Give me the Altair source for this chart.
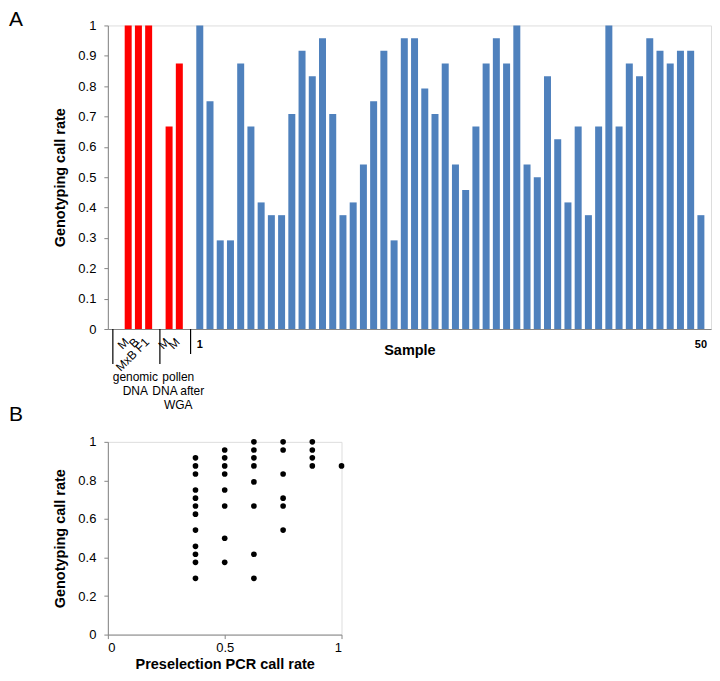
import altair as alt
import pandas as pd

FONT = "Liberation Sans"

# ---- Panel A data ----
ctrl_labels = ["M", "B", "MxB F1", "M", "M"]
ctrl_values = [1.0, 1.0, 1.0, 0.667, 0.875]
ctrl_slots = [1, 2, 3, 5, 6]

sample_values = [1.0, 0.75, 0.292, 0.292, 0.875, 0.667, 0.417, 0.375, 0.375, 0.708,
                 0.917, 0.833, 0.958, 0.708, 0.375, 0.417, 0.542, 0.75, 0.917, 0.292,
                 0.958, 0.958, 0.792, 0.708, 0.875, 0.542, 0.458, 0.667, 0.875, 0.958,
                 0.875, 1.0, 0.542, 0.5, 0.833, 0.625, 0.417, 0.667, 0.375, 0.667,
                 1.0, 0.667, 0.875, 0.833, 0.958, 0.917, 0.875, 0.917, 0.917, 0.375]
sample_numbers = list(range(1, 51))
first_sample_slot = 8
n_slots = 58
sample_tick_labels = ["1", "50"]

group_names = ["genomic\nDNA", "pollen\nDNA after\nWGA"]
group_centers = [2.2, 6.4]
group_bounds = [0, 4.6, 7.6]

# ---- Panel B data ----
pcr_rate = [0.375, 0.375, 0.375, 0.375, 0.375, 0.375, 0.375, 0.375, 0.375, 0.375, 0.375, 0.375,
            0.5, 0.5, 0.5, 0.5, 0.5, 0.5, 0.5, 0.5,
            0.625, 0.625, 0.625, 0.625, 0.625, 0.625, 0.625, 0.625,
            0.75, 0.75, 0.75, 0.75, 0.75, 0.75,
            0.875, 0.875, 0.875, 0.875,
            1.0]
geno_rate = [0.917, 0.875, 0.833, 0.75, 0.708, 0.667, 0.625, 0.542, 0.458, 0.417, 0.375, 0.292,
             0.958, 0.917, 0.875, 0.833, 0.75, 0.667, 0.5, 0.375,
             1.0, 0.958, 0.917, 0.875, 0.792, 0.667, 0.417, 0.292,
             1.0, 0.958, 0.833, 0.708, 0.667, 0.542,
             1.0, 0.958, 0.917, 0.875,
             0.875]

GREY = "#868686"
RED = "#FF0000"
BLUE = "#4F81BD"
NOPAD = {"left": 0, "top": 0, "right": 0, "bottom": 0}

ctrl_df = pd.DataFrame({"label": ctrl_labels, "v": ctrl_values, "slot": ctrl_slots})
samp_df = pd.DataFrame({"n": sample_numbers, "v": sample_values})
samp_df["slot"] = samp_df["n"] + first_sample_slot - 1
tick_df = samp_df[samp_df["n"].astype(str).isin(sample_tick_labels)].copy()
tick_df["label"] = tick_df["n"].astype(str)
sep_df = pd.DataFrame({"b": group_bounds, "k": ["long", "long", "short"]})
grp_df = pd.DataFrame({"name": group_names, "c": group_centers})

xscale = alt.Scale(domain=[0, n_slots], nice=False, zero=False)
yscale = alt.Scale(domain=[0, 1], nice=False)

xA = alt.X("pos:Q", scale=xscale,
           axis=alt.Axis(ticks=False, labels=False, grid=False, domainColor=GREY,
                         title="Sample", titlePadding=15, titleFontSize=14.5,
                         titleFontWeight="bold"))
yA = alt.Y("v:Q", scale=yscale,
           axis=alt.Axis(values=[0, 0.1, 0.2, 0.3, 0.4, 0.5, 0.6, 0.7, 0.8, 0.9, 1],
                         format="~g", grid=False, tickSize=4, labelPadding=8,
                         labelOverlap=False, domainColor=GREY, tickColor=GREY,
                         labelFontSize=13, title="Genotyping call rate",
                         titleFontSize=14.5, titleFontWeight="bold", titlePadding=10))

bars_ctrl = alt.Chart(ctrl_df).transform_calculate(pos="datum.slot + 0.5").mark_bar(
    size=7, color=RED).encode(x=xA, y=yA)
bars_samp = alt.Chart(samp_df).transform_calculate(pos="datum.slot + 0.5").mark_bar(
    size=7, color=BLUE).encode(x=xA, y=yA)

sep_long = alt.Chart(sep_df).transform_filter("datum.k == 'long'").transform_calculate(
    pos="datum.b").mark_rule(color="black", strokeWidth=1.2).encode(
    x=xA, y=alt.value(304), y2=alt.value(339))
sep_short = alt.Chart(sep_df).transform_filter("datum.k == 'short'").transform_calculate(
    pos="datum.b").mark_rule(color="black", strokeWidth=1.2).encode(
    x=xA, y=alt.value(304), y2=alt.value(329))

ctrl_text = alt.Chart(ctrl_df).transform_calculate(
    pos="datum.slot + 0.35").mark_text(
    angle=315, align="right", baseline="middle", fontSize=12, font=FONT,
    color="black").encode(x=xA, y=alt.value(315), text="label:N")

num_text = alt.Chart(tick_df).transform_calculate(pos="datum.slot + 0.5").mark_text(
    align="center", baseline="middle", fontSize=11, fontWeight="bold", font=FONT,
    color="black").encode(x=xA, y=alt.value(320), text="label:N")

grp_text = alt.Chart(grp_df).transform_calculate(pos="datum.c").mark_text(
    align="center", baseline="top", fontSize=12, font=FONT, color="black",
    lineBreak="\n", lineHeight=14).encode(x=xA, y=alt.value(347), text="name:N")

labA = alt.Chart(pd.DataFrame({"t": ["A"]})).mark_text(
    align="left", baseline="top", fontSize=21, font=FONT, color="black").encode(
    x=alt.value(-99), y=alt.value(-16), text="t:N")

top = alt.layer(bars_ctrl, bars_samp, sep_long, sep_short, ctrl_text, num_text,
                grp_text, labA).properties(width=604, height=304)

# ---- Panel B ----
sc_df = pd.DataFrame({"pcr": pcr_rate, "geno": geno_rate})
points = alt.Chart(sc_df).mark_circle(size=32, color="black", opacity=1).encode(
    x=alt.X("pcr:Q", scale=alt.Scale(domain=[0, 1], nice=False),
            axis=alt.Axis(values=[0, 0.5, 1], format="~g", grid=False, tickSize=4,
                          labelPadding=3, domainColor=GREY, tickColor=GREY,
                          labelFontSize=13, title="Preselection PCR call rate",
                          titleFontSize=14.5, titleFontWeight="bold", titlePadding=3)),
    y=alt.Y("geno:Q", scale=alt.Scale(domain=[0, 1], nice=False),
            axis=alt.Axis(values=[0, 0.2, 0.4, 0.6, 0.8, 1], format="~g", grid=False,
                          tickSize=4, labelPadding=8, labelOverlap=False,
                          domainColor=GREY, tickColor=GREY,
                          labelFontSize=13, title="Genotyping call rate",
                          titleFontSize=14.5, titleFontWeight="bold", titlePadding=10)))
labB = alt.Chart(pd.DataFrame({"t": ["B"]})).mark_text(
    align="left", baseline="top", fontSize=21, font=FONT, color="black").encode(
    x=alt.value(-99), y=alt.value(-38), text="t:N")

bottom = alt.layer(points, labB).properties(width=234, height=193)

chart = alt.vconcat(top, bottom, spacing=113, bounds="flush").properties(
    padding=NOPAD, autosize=alt.AutoSizeParams(type="pad")).configure_view(
    stroke=None).configure(font=FONT, padding=NOPAD).configure_axis(
    labelFont=FONT, titleFont=FONT, labelColor="black", titleColor="black")

chart.save("out.html", embed_options={"renderer": "svg", "actions": False})
